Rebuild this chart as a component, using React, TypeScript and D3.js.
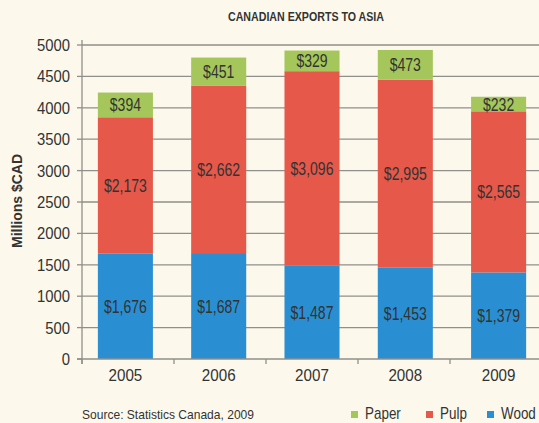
import React from "react";
import * as d3 from "d3";

const years = ["2005", "2006", "2007", "2008", "2009"];
const wood = [1676, 1687, 1487, 1453, 1379];
const pulp = [2173, 2662, 3096, 2995, 2565];
const paper = [394, 451, 329, 473, 232];
const yTicks = [0, 500, 1000, 1500, 2000, 2500, 3000, 3500, 4000, 4500, 5000];
const seriesNames = ["Paper", "Pulp", "Wood"];

const W = 539, H = 423;
const colors: Record<string, string> = { Wood: "#2a8fd2", Pulp: "#e5584a", Paper: "#a4c65a" };
const FONT = "'Liberation Sans', Arial, sans-serif";
const TXT = "#333";
const GRID = "#8f8f8b";

function T({ x, y, sx = 0.85, anchor = "start", size = 16, weight = "normal", children }: any) {
  return (
    <text transform={`translate(${x},${y}) scale(${sx},1)`} textAnchor={anchor} fontSize={size} fontWeight={weight} fill={TXT}>{children}</text>
  );
}

export default function App() {
  const x = d3.scaleBand().domain(years).range([82, 542]).paddingInner(0.41).paddingOuter(0.17);
  const y = d3.scaleLinear().domain([0, 5000]).range([359, 45]);
  const fmt = (v: number) => "$" + d3.format(",")(v);

  const rows = years.map((yr, i) => ({ year: yr, Wood: wood[i], Pulp: pulp[i], Paper: paper[i] }));
  const stack = d3.stack<any>().keys(["Wood", "Pulp", "Paper"])(rows);

  return (
    <svg width={W} height={H} style={{ display: "block", position: "absolute", left: 0, top: 0, background: "#fcf9ec" }} fontFamily={FONT}>
      <rect x={0} y={0} width={W} height={H} fill="#fcf9ec" />
      <text x={228} y={21} textLength={156} lengthAdjust="spacingAndGlyphs" fontSize={13} fontWeight="bold" fill={TXT}>CANADIAN EXPORTS TO ASIA</text>
      {yTicks.map(t => (
        <g key={t}>
          {t > 0 && <line x1={82} x2={W} y1={y(t)} y2={y(t)} stroke={GRID} strokeWidth={1.3} />}
          <line x1={77} x2={82} y1={y(t)} y2={y(t)} stroke={GRID} strokeWidth={1.3} />
          <T x={70} y={y(t) + 6} anchor="end" size={16.5} sx={0.9}>{t}</T>
        </g>
      ))}
      <text transform={`translate(22,${201}) rotate(-90)`} x={-47} y={0} textLength={94} lengthAdjust="spacingAndGlyphs" fontSize={14.5} fontWeight="bold" fill={TXT}>Millions $CAD</text>
      {stack.map(s => s.map((d, i) => (
        <rect key={s.key + i} x={x(years[i])} width={x.bandwidth()} y={y(d[1])} height={y(d[0]) - y(d[1])} fill={colors[s.key]} />
      )))}
      {stack.map(s => s.map((d, i) => (
        <T key={"l" + s.key + i} x={(x(years[i]) as number) + x.bandwidth() / 2} y={(y(d[0]) + y(d[1])) / 2 + 6.5} anchor="middle" size={18} sx={0.78}>{fmt(d[1] - d[0])}</T>
      )))}
      <line x1={82} x2={82} y1={40} y2={364} stroke={GRID} strokeWidth={1.3} />
      <line x1={77} x2={W} y1={359} y2={359} stroke={GRID} strokeWidth={1.3} />
      {years.map((yr, i) => {
        const bx = 82 + i * 92;
        return <line key={"t" + yr} x1={bx} x2={bx} y1={359} y2={364} stroke={GRID} strokeWidth={1.3} />;
      })}
      {years.map(yr => (
        <T key={"x" + yr} x={(x(yr) as number) + x.bandwidth() / 2} y={381} anchor="middle" size={16.5} sx={0.92}>{yr}</T>
      ))}
      <text x={82} y={419} textLength={172} lengthAdjust="spacingAndGlyphs" fontSize={13} fill={TXT}>Source: Statistics Canada, 2009</text>
      {seriesNames.map((n, i) => {
        const lx = [351, 426, 487][i];
        return (
          <g key={n}>
            <rect x={lx} y={411} width={7} height={7} fill={colors[n]} />
            <T x={lx + 14} y={419} size={16} sx={0.84}>{n}</T>
          </g>
        );
      })}
    </svg>
  );
}
